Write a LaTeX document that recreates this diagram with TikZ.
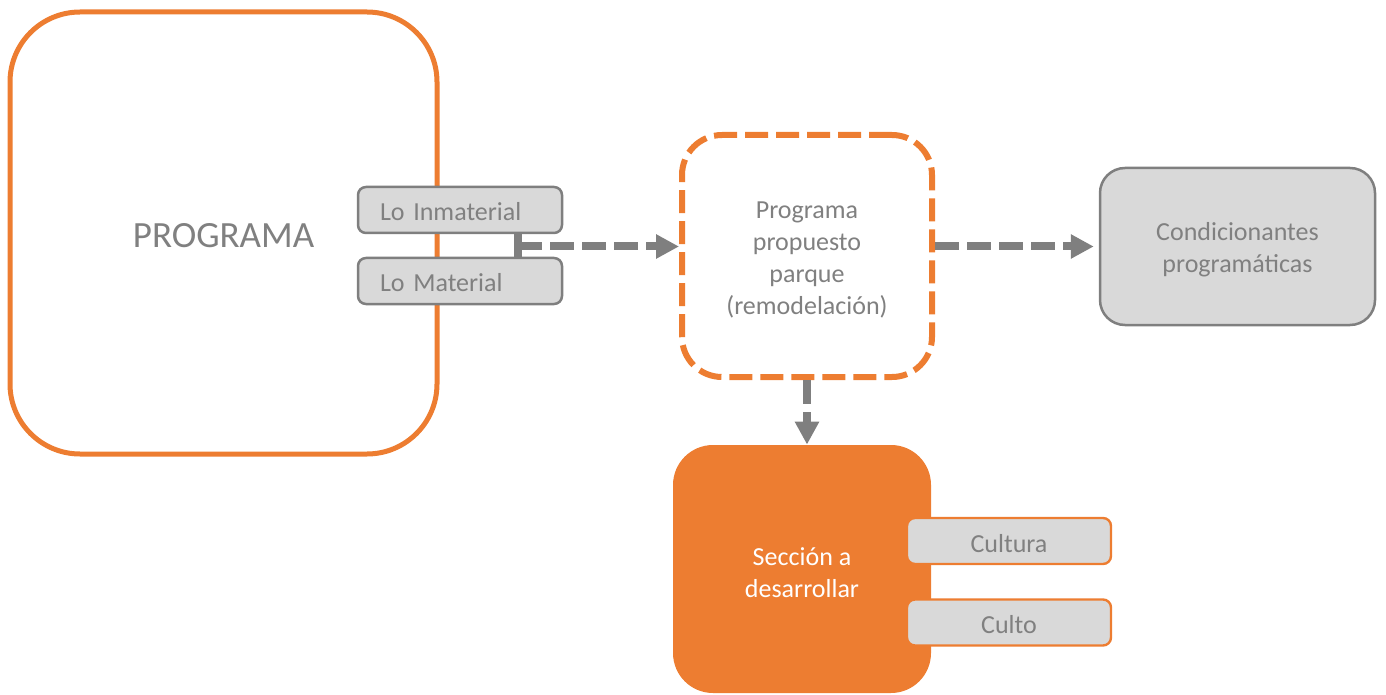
\documentclass[tikz,border=0pt]{standalone}
\usepackage{fontspec}
\setmainfont{Carlito}
\usetikzlibrary{arrows.meta}
\definecolor{orng}{HTML}{ED7D31}
\definecolor{gryline}{HTML}{7F7F7F}
\definecolor{gryfill}{HTML}{D9D9D9}
\definecolor{gtext}{HTML}{808080}
\newcommand{\tpad}{\rule{0pt}{12.5pt}}
\begin{document}
\begin{tikzpicture}[x=0.5pt,y=-0.5pt,
  txt/.style={font=\fontsize{13}{16}\selectfont},
  bigbox/.style={draw=orng,line width=2.5pt,rounded corners=35pt,fill=white,text=gtext,font=\fontsize{18.5}{22}\selectfont,execute at begin node={\rule{0pt}{15pt}}},
  tabbox/.style={draw=gryline,line width=1.25pt,fill=gryfill,rounded corners=4pt,text=gtext,txt,minimum width=102pt,minimum height=23pt,text width=80pt,align=left,inner xsep=11pt,inner ysep=0pt,execute at begin node={\rule{0pt}{11pt}}},
  otab/.style={draw=orng,line width=1.2pt,fill=gryfill,rounded corners=4pt,text=gtext,txt,minimum width=102pt,minimum height=23pt,align=center,inner sep=0pt,execute at begin node={\rule{0pt}{11.5pt}}},
  dbox/.style={draw=orng,line width=3pt,dash pattern=on 11.5pt off 4pt,rounded corners=20pt,fill=white,text=gtext,txt,align=center,minimum width=125pt,minimum height=121pt,inner sep=0pt},
  gbox/.style={draw=gryline,line width=1.25pt,fill=gryfill,rounded corners=12.5pt,text=gtext,txt,align=center,minimum width=137.5pt,minimum height=78.5pt,inner sep=0pt},
  obox/.style={fill=orng,rounded corners=20pt,text=white,txt,align=center,minimum width=129pt,minimum height=124pt,inner sep=0pt},
  conn/.style={draw=gryline,line width=4pt,dash pattern=on 12pt off 4pt,-{Triangle[length=11.5pt,width=11.5pt]}}
]
\useasboundingbox (0,0) rectangle (1386,695);
\node[bigbox,minimum width=213.5pt,minimum height=221pt,inner sep=0pt] (prog) at (223.5,233) {PROGRAMA};
\node[tabbox] (inm) at (460,210) {Lo Inmaterial};
\node[tabbox] (mat) at (460,281) {Lo Material};
\node[dbox] (prop) at (807,256) {\tpad Programa\\propuesto\\parque\\(remodelación)};
\node[gbox] (cond) at (1237.5,246.5) {\tpad Condicionantes\\programáticas};
\node[obox] (sec) at (802,569) {\tpad Sección a\\desarrollar};
\node[otab] (cult) at (1009,541) {Cultura};
\node[otab] (culto) at (1009,622.5) {Culto};
\coordinate (j) at (518,246.5);
\draw[gryline,line width=4pt] (inm.south -| j) -- (mat.north -| j);
\draw[conn] (j) -- (j -| prop.west);
\draw[conn,shorten >=2.5pt] (prop.east |- cond.west) -- (cond.west);
\draw[conn] (prop.south) -- (prop.south |- sec.north);
\end{tikzpicture}
\end{document}
